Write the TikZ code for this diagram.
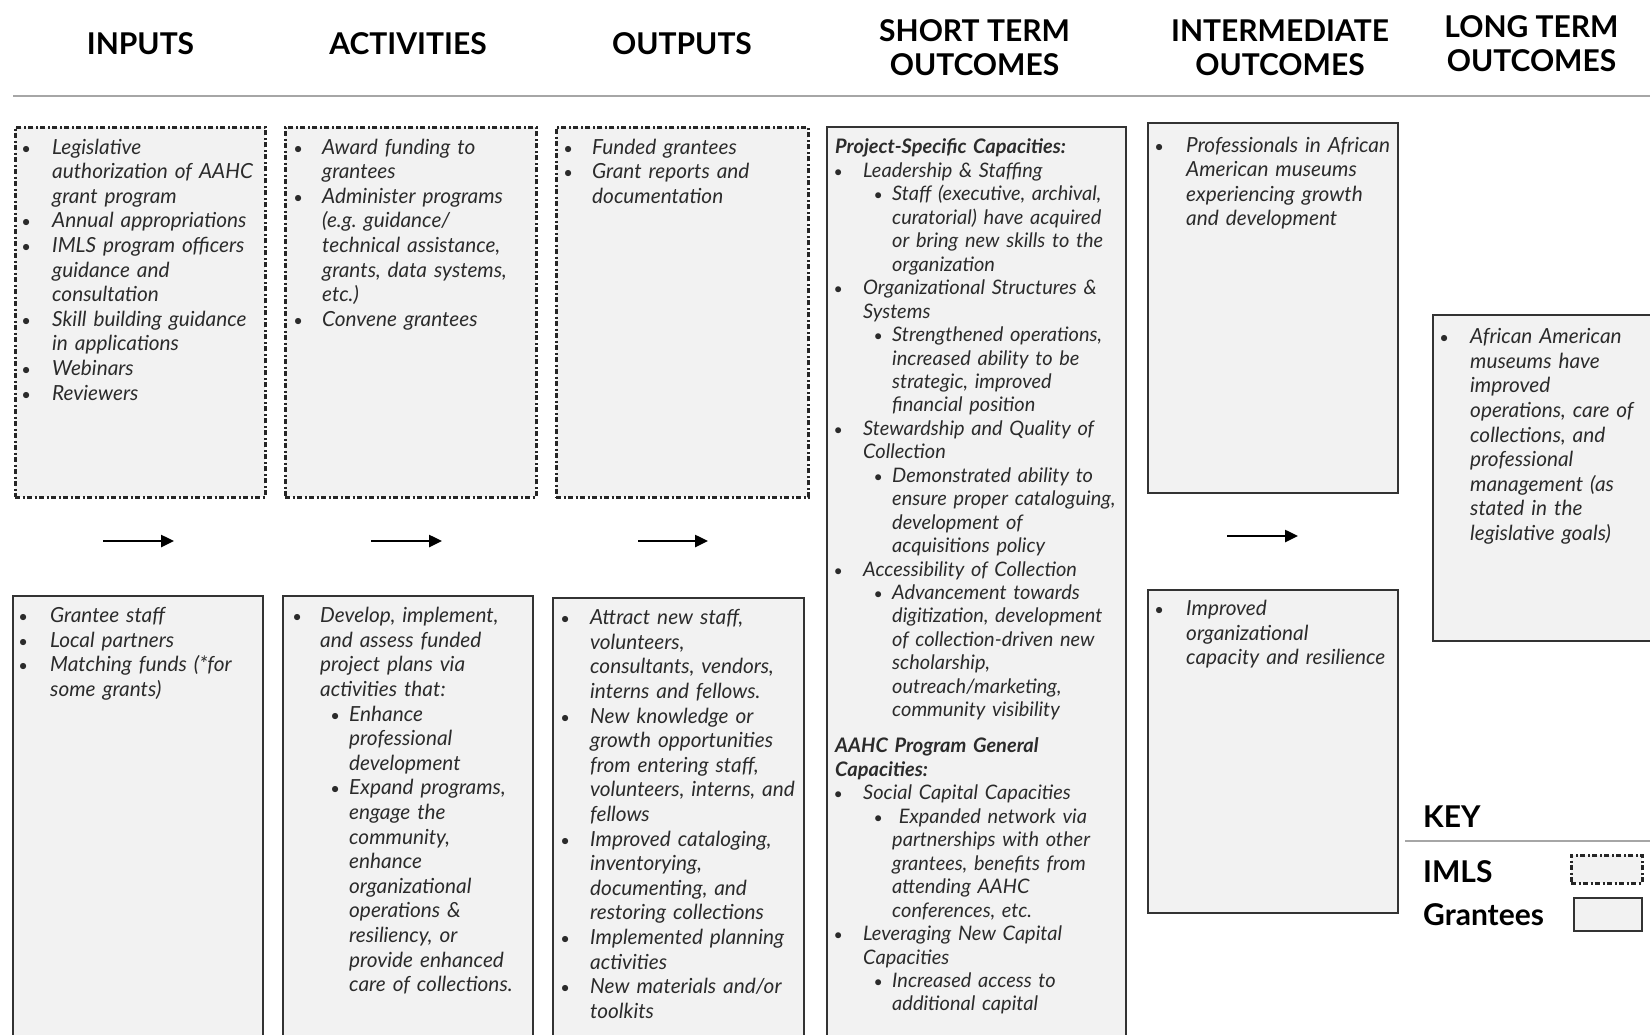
\documentclass[tikz,border=0pt]{standalone}
\usepackage{fontspec}
\setmainfont{Lato}
\usetikzlibrary{arrows.meta}
\frenchspacing
\definecolor{boxfill}{HTML}{F2F2F2}
\definecolor{boxline}{HTML}{333333}
\definecolor{txtcol}{HTML}{2B2B2B}
\definecolor{rulecol}{HTML}{A6A6A6}
% #1 left indent, #2 distance from bullet centre to text start, #3 text
\newcommand\itm[3]{\par{\leftskip=#1\noindent\llap{\makebox[0pt]{\upshape\scalebox{0.8}{\textbullet}}\hspace{#2}}#3\par}}
\newcommand\hd[1]{\par{\leftskip=0pt\noindent\bfseries #1\par}}
\begin{document}
\begin{tikzpicture}[x=1pt,y=-1pt,
  hdr/.style={font=\fontsize{30}{33.7}\selectfont\bfseries, align=center, inner sep=0pt},
  keytxt/.style={font=\fontsize{30}{33.7}\selectfont\bfseries, anchor=base west, inner sep=0pt},
  grant/.style={draw=boxline, fill=boxfill, line width=2.2pt, anchor=north west, inner sep=0pt},
  imls/.style={grant, draw=black!85, line width=2.6pt, dash pattern=on 5pt off 2.5pt on 2pt off 2.5pt},
  body/.style={anchor=base west, inner sep=0pt, text width=400pt, align=left, text=txtcol,
    font=\fontsize{20.8}{24.6}\selectfont\itshape\frenchspacing},
  stbody/.style={body, font=\fontsize{20}{23.45}\selectfont\itshape\frenchspacing},
  flow/.style={line width=2.5pt, -{Triangle[length=13pt,width=12pt]}},
  rule/.style={draw=rulecol, line width=2pt}]
\clip (0,0) rectangle (1650,1034);
\fill[white] (0,0) rectangle (1650,1034);

% headers
\node[hdr] (hin) at (140.5,44) {INPUTS};
\node[hdr] (hac) at (408,44) {ACTIVITIES};
\node[hdr] (hou) at (682,44) {OUTPUTS};
\node[hdr] (hst) at (974.5,47.5) {SHORT TERM\\OUTCOMES};
\node[hdr] (him) at (1280,47.5) {INTERMEDIATE\\OUTCOMES};
\node[hdr] (hlt) at (1531.5,44) {LONG TERM\\OUTCOMES};
\draw[rule] (13,96) -- (1650,96);

% IMLS boxes (top row)
\node[imls, minimum width=250pt, minimum height=370pt] (inT) at (14,126) {};
\node[imls, minimum width=251pt, minimum height=370pt] (acT) at (284,126) {};
\node[imls, minimum width=252pt, minimum height=370pt] (ouT) at (555,126) {};

% Grantee boxes
\node[grant, minimum width=250pt, minimum height=460pt] (inB) at (12,595) {};
\node[grant, minimum width=250pt, minimum height=460pt] (acB) at (282,595) {};
\node[grant, minimum width=251pt, minimum height=460pt] (ouB) at (552,597) {};
\node[grant, minimum width=299pt, minimum height=930pt] (st) at (826,126) {};
\node[grant, minimum width=250pt, minimum height=370pt] (imT) at (1147,122) {};
\node[grant, minimum width=250pt, minimum height=323pt] (imB) at (1147,589) {};
\node[grant, minimum width=240pt, minimum height=326pt] (lt) at (1432,314) {};

% arrows
\coordinate (a1s) at (103,541); \coordinate (a1e) at (174,541);
\coordinate (a2s) at (371,541); \coordinate (a2e) at (442,541);
\coordinate (a3s) at (638,541); \coordinate (a3e) at (708,541);
\coordinate (a4s) at (1227,536); \coordinate (a4e) at (1298,536);
\draw[flow] (a1s) -- (a1e);
\draw[flow] (a2s) -- (a2e);
\draw[flow] (a3s) -- (a3e);
\draw[flow] (a4s) -- (a4e);

% texts: top row
\node[body] (tinT) at (52,129.5) {%
\itm{0pt}{26pt}{Legislative\newline authorization of AAHC\newline grant program}%
\itm{0pt}{26pt}{Annual appropriations}%
\itm{0pt}{26pt}{IMLS program officers\newline guidance and\newline consultation}%
\itm{0pt}{26pt}{Skill building guidance\newline in applications}%
\itm{0pt}{26pt}{Webinars}%
\itm{0pt}{26pt}{Reviewers}};

\node[body] (tacT) at (322,129.5) {%
\itm{0pt}{24pt}{Award funding to\newline grantees}%
\itm{0pt}{24pt}{Administer programs\newline (e.g. guidance/\newline technical assistance,\newline grants, data systems,\newline etc.)}%
\itm{0pt}{24pt}{Convene grantees}};

\node[body] (touT) at (592,129.5) {%
\itm{0pt}{24pt}{Funded grantees}%
\itm{0pt}{24pt}{Grant reports and\newline documentation}};

% texts: bottom row
\node[body] (tinB) at (50,598) {%
\itm{0pt}{27pt}{Grantee staff}%
\itm{0pt}{27pt}{Local partners}%
\itm{0pt}{27pt}{Matching funds (*for\newline some grants)}};

\node[body] (tacB) at (320,598) {%
\itm{0pt}{23pt}{Develop, implement,\newline and assess funded\newline project plans via\newline activities that:}%
\itm{29pt}{14pt}{Enhance\newline professional\newline development}%
\itm{29pt}{14pt}{Expand programs,\newline engage the\newline community,\newline enhance\newline organizational\newline operations \&\newline resiliency, or\newline provide enhanced\newline care of collections.}};

\node[body] (touB) at (590,600) {%
\itm{0pt}{25pt}{Attract new staff,\newline volunteers,\newline consultants, vendors,\newline interns and fellows.}%
\itm{0pt}{25pt}{New knowledge or\newline growth opportunities\newline from entering staff,\newline volunteers, interns, and\newline fellows}%
\itm{0pt}{25pt}{Improved cataloging,\newline inventorying,\newline documenting, and\newline restoring collections}%
\itm{0pt}{25pt}{Implemented planning\newline activities}%
\itm{0pt}{25pt}{New materials and/or\newline toolkits}};

% short term
\node[stbody] (tst1) at (835,130.5) {%
\hd{Project-Specific Capacities:}%
\itm{28pt}{25pt}{Leadership \& Staffing}%
\itm{57pt}{14pt}{Staff (executive, archival,\newline curatorial) have acquired\newline or bring new skills to the\newline organization}%
\itm{28pt}{25pt}{Organizational Structures \&\newline Systems}%
\itm{57pt}{14pt}{Strengthened operations,\newline increased ability to be\newline strategic, improved\newline financial position}%
\itm{28pt}{25pt}{Stewardship and Quality of\newline Collection}%
\itm{57pt}{14pt}{Demonstrated ability to\newline ensure proper cataloguing,\newline development of\newline acquisitions policy}%
\itm{28pt}{25pt}{Accessibility of Collection}%
\itm{57pt}{14pt}{Advancement towards\newline digitization, development\newline of collection-driven new\newline scholarship,\newline outreach/marketing,\newline community visibility}};

\node[stbody] (tst2) at (835,729.5) {%
\hd{AAHC Program General\newline Capacities:}%
\itm{28pt}{25pt}{Social Capital Capacities}%
\itm{57pt}{14pt}{\ Expanded network via\newline partnerships with other\newline grantees, benefits from\newline attending AAHC\newline conferences, etc.}%
\itm{28pt}{25pt}{Leveraging New Capital\newline Capacities}%
\itm{57pt}{14pt}{Increased access to\newline additional capital}};

% intermediate and long term
\node[body] (timT) at (1186,127.5) {%
\itm{0pt}{27pt}{Professionals in African\newline American museums\newline experiencing growth\newline and development}};
\node[body] (timB) at (1186,591) {%
\itm{0pt}{27pt}{Improved\newline organizational\newline capacity and resilience}};
\node[body] (tlt) at (1470,319) {%
\itm{0pt}{26pt}{African American\newline museums have\newline improved\newline operations, care of\newline collections, and\newline professional\newline management (as\newline stated in the\newline legislative goals)}};

% key
\node[keytxt] (key) at (1423,827) {KEY};
\draw[rule] (1405,841) -- (1650,841);
\node[keytxt] (kimls) at (1423,882) {IMLS};
\node[keytxt] (kgr) at (1423,925) {Grantees};
\node[imls, minimum width=71pt, minimum height=28pt] (kbi) at (1570,854) {};
\node[grant, minimum width=68pt, minimum height=33pt] (kbg) at (1573,897) {};
\end{tikzpicture}
\end{document}
